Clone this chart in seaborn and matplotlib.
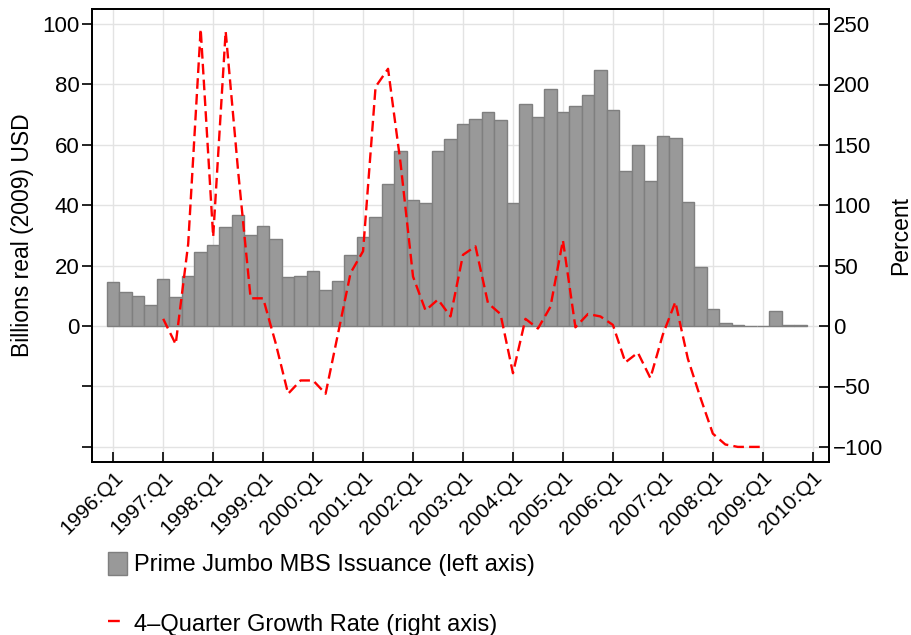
import numpy as np
import pandas as pd
import matplotlib
matplotlib.use("Agg")
import matplotlib.pyplot as plt
import seaborn as sns
from matplotlib.patches import Patch
from matplotlib.lines import Line2D

# ---- data ----
tick_labels = ["1996:Q1", "1997:Q1", "1998:Q1", "1999:Q1", "2000:Q1", "2001:Q1",
               "2002:Q1", "2003:Q1", "2004:Q1", "2005:Q1", "2006:Q1", "2007:Q1",
               "2008:Q1", "2009:Q1", "2010:Q1"]

# Prime Jumbo MBS issuance, billions real (2009) USD, 1996:Q1 .. 2009:Q4
issuance = [14.7, 11.2, 9.9, 7.0,
            15.5, 9.6, 16.6, 24.4,
            27.0, 32.8, 36.9, 30.0,
            33.2, 28.9, 16.2, 16.6,
            18.1, 12.1, 14.9, 23.7,
            29.5, 36.1, 47.0, 57.9,
            41.6, 40.7, 58.1, 62.0,
            66.8, 68.7, 70.8, 68.1,
            40.7, 73.6, 69.3, 78.5,
            70.8, 73.0, 76.5, 84.9,
            71.7, 51.4, 59.9, 48.1,
            62.8, 62.4, 41.2, 19.5,
            5.5, 1.0, 0.2, 0.0,
            0.0, 4.9, 0.3, 0.3]

# 4-quarter growth rate, percent, 1997:Q1 .. 2009:Q1
growth_first_quarter = 4  # index of 1997:Q1
growth = [6, -15, 68, 246,
          74, 244, 128, 23,
          23, -14, -56, -45,
          -45, -56, -6, 44,
          62, 198, 213, 135,
          41, 13, 22, 8,
          59, 66, 19, 10,
          -39, 6, -2, 16,
          71, -1, 10, 8,
          1, -30, -22, -43,
          -7, 20, -27, -59,
          -89, -98, -100, -100,
          -100]

bar_label = "Prime Jumbo MBS Issuance (left axis)"
line_label = "4\u2013Quarter Growth Rate (right axis)"

# ---- style ----
sns.set_theme(style="white")
plt.rcParams['font.family'] = ['Liberation Sans', 'DejaVu Sans']
plt.rcParams.update({"text.color": "black", "axes.labelcolor": "black",
                     "xtick.color": "black", "ytick.color": "black"})

bar_fc = "#999999"
bar_ec = "#7f7f7f"
grid_c = "#e3e3e3"

fig = plt.figure(figsize=(9.11, 6.35), dpi=100)
ax = fig.add_axes([92 / 911, 1 - 462 / 635, (829 - 92) / 911, (462 - 9) / 635])

df_bar = pd.DataFrame({"q": np.arange(len(issuance)), "v": issuance})
sns.barplot(data=df_bar, x="q", y="v", native_scale=True, width=1,
            color=bar_fc, saturation=1, edgecolor=bar_ec, linewidth=1.0,
            ax=ax, zorder=2)

ax.set_axisbelow(True)
ax.grid(True, color=grid_c, linewidth=1.0, zorder=0)
ax.set_xlim(-1.7, 57.3)
ax.set_ylim(-45, 105)
ax.set_yticks([-40, -20, 0, 20, 40, 60, 80, 100])
ax.set_yticklabels(["", "", "0", "20", "40", "60", "80", "100"], fontsize=16)
ax.set_xticks(np.arange(0, 4 * len(tick_labels), 4))
ax.set_xticklabels(tick_labels, fontsize=15, rotation=45, ha="right",
                   va="top", rotation_mode="anchor")
ax.set_xlabel("")
ax.set_ylabel("Billions real (2009) USD", fontsize=16.5, labelpad=6)
ax.tick_params(axis="x", direction="in", length=7, width=1.2, color="black",
               pad=4, bottom=True)
ax.tick_params(axis="y", direction="out", length=7, width=1.2, color="black",
               pad=2, left=True)

ax2 = ax.twinx()
df_line = pd.DataFrame({"q": np.arange(growth_first_quarter,
                                       growth_first_quarter + len(growth)),
                        "g": growth})
sns.lineplot(data=df_line, x="q", y="g", ax=ax2, color="#ff0000",
             linewidth=1.7, linestyle=(0, (4.5, 2.2)), zorder=3)
ax2.set_ylim(-112.5, 262.5)
ax2.set_yticks([-100, -50, 0, 50, 100, 150, 200, 250])
ax2.set_yticklabels(["\u2212100", "\u221250", "0", "50", "100", "150", "200", "250"],
                    fontsize=16)
ax2.set_ylabel("Percent", fontsize=16.5, labelpad=4)
ax2.set_xlabel("")
ax2.grid(False)
ax2.tick_params(axis="y", direction="in", length=7, width=1.2, color="black",
                pad=3, right=True)
ax2.set_xlim(-1.7, 57.3)

for a in (ax, ax2):
    for s in a.spines.values():
        s.set_visible(True)
        s.set_color("black")
        s.set_linewidth(1.3)

handles = [Patch(facecolor=bar_fc, edgecolor=bar_ec, linewidth=1.0),
           Line2D([], [], color="#ff0000", linewidth=1.7, dashes=(5, 40))]
fig.legend(handles=handles, labels=[bar_label, line_label],
           loc="upper left", bbox_to_anchor=(108 / 911, 1 - 552 / 635),
           frameon=False, fontsize=17, handlelength=0.82, handleheight=1.1,
           handletextpad=0.3, labelspacing=1.5, borderpad=0, borderaxespad=0)

fig.savefig("out.png", dpi=100)
